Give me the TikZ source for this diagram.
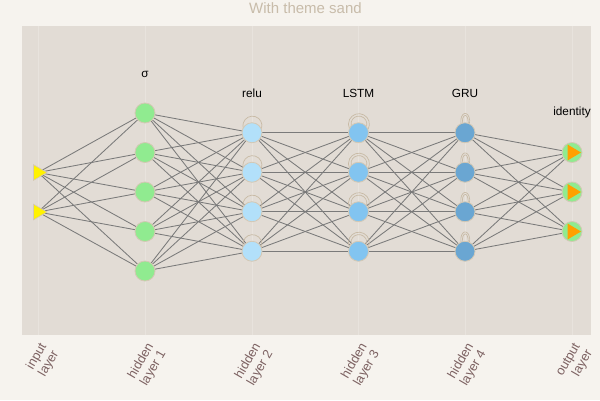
\documentclass[tikz,border=0pt]{standalone}
\usepackage{fontspec}
\setmainfont{Liberation Sans}
\usetikzlibrary{positioning,shapes.geometric}

\definecolor{sandpaper}{RGB}{246,243,238}
\definecolor{sandplot}{RGB}{226,220,213}
\definecolor{sandgrid}{RGB}{232,227,221}
\definecolor{sandtitle}{RGB}{200,188,170}
\definecolor{sandtick}{RGB}{125,98,98}
\definecolor{sandline}{RGB}{212,200,180}
\definecolor{sandloop}{RGB}{200,186,165}
\definecolor{edgegray}{RGB}{122,122,122}
\definecolor{sigmagreen}{RGB}{144,235,144}
\definecolor{relublue}{RGB}{178,224,250}
\definecolor{lstmblue}{RGB}{130,196,240}
\definecolor{grublue}{RGB}{106,166,210}
\definecolor{outorange}{RGB}{255,160,0}

\pgfdeclarelayer{plotbg}
\pgfdeclarelayer{edges}
\pgfsetlayers{plotbg,edges,main}

\tikzset{
  neuron/.style={circle, draw=sandline, line width=0.8pt, minimum size=20pt, inner sep=0pt},
  inneuron/.style={regular polygon, regular polygon sides=3, shape border rotate=-90, draw=sandline, line width=0.6pt, fill=yellow, minimum size=18pt, inner sep=0pt},
  outneuron/.style={neuron, fill=sigmagreen, path picture={\fill[outorange] ([xshift=9pt]path picture bounding box.center) -- ++(-13.5pt,8pt) -- ++(0,-16pt) -- cycle;}},
  actname/.style={font=\fontsize{11.8}{14}\selectfont, inner sep=0pt, text depth=0pt},
  layername/.style={font=\fontsize{12.8}{14}\selectfont, text=sandtick, align=right, rotate=60, anchor=east, inner sep=0pt},
  conn/.style={draw=edgegray, line width=0.85pt},
  selfloop/.style={draw=sandloop, line width=0.7pt}
}

\begin{document}
\begin{tikzpicture}[x=1pt, y=1pt, node distance=39.5pt]
\useasboundingbox (0,0) rectangle (600,-400);
\begin{pgfonlayer}{plotbg}
\fill[sandpaper] (0,0) rectangle (600,-400);
\fill[sandplot] (22,-26) rectangle (591,-335);
\foreach \x in {38,145,252,358.5,465,572}
  \draw[sandgrid, line width=0.6pt] (\x,-26) -- (\x,-335);
\end{pgfonlayer}
\node[font=\fontsize{15}{17}\selectfont, text=sandtitle] (title) at (305.5,-8) {With theme sand};
% input layer
\node[inneuron] (i1) at (38,-172.5) {};
\node[inneuron, below of=i1] (i2) {};
% hidden layer 1
\node[neuron, fill=sigmagreen] (s1) at (145,-113) {};
\node[neuron, fill=sigmagreen, below of=s1] (s2) {};
\node[neuron, fill=sigmagreen, below of=s2] (s3) {};
\node[neuron, fill=sigmagreen, below of=s3] (s4) {};
\node[neuron, fill=sigmagreen, below of=s4] (s5) {};
% hidden layer 2
\node[neuron, fill=relublue] (r1) at (252,-132.75) {};
\node[neuron, fill=relublue, below of=r1] (r2) {};
\node[neuron, fill=relublue, below of=r2] (r3) {};
\node[neuron, fill=relublue, below of=r3] (r4) {};
% hidden layer 3
\node[neuron, fill=lstmblue] (l1) at (358.5,-132.75) {};
\node[neuron, fill=lstmblue, below of=l1] (l2) {};
\node[neuron, fill=lstmblue, below of=l2] (l3) {};
\node[neuron, fill=lstmblue, below of=l3] (l4) {};
% hidden layer 4
\node[neuron, fill=grublue] (g1) at (465,-132.75) {};
\node[neuron, fill=grublue, below of=g1] (g2) {};
\node[neuron, fill=grublue, below of=g2] (g3) {};
\node[neuron, fill=grublue, below of=g3] (g4) {};
% output layer
\node[outneuron] (o1) at (572,-152.5) {};
\node[outneuron, below of=o1] (o2) {};
\node[outneuron, below of=o2] (o3) {};
% activations
\node[actname, above=25pt of s1] (sig) {σ};
\node[actname, above=25pt of r1] (relu) {relu};
\node[actname, above=25pt of l1] (lstm) {LSTM};
\node[actname, above=25pt of g1] (gru) {GRU};
\node[actname, above=26pt of o1] (ident) {identity};
% layer names
\node[layername] (tin) at (50,-348) {input\\layer};
\node[layername] (th1) at (157,-348) {hidden\\layer 1};
\node[layername] (th2) at (264,-348) {hidden\\layer 2};
\node[layername] (th3) at (370.5,-348) {hidden\\layer 3};
\node[layername] (th4) at (477,-348) {hidden\\layer 4};
\node[layername] (tout) at (584,-348) {output\\layer};
\begin{pgfonlayer}{edges}
\foreach \a in {1,2} \foreach \b in {1,...,5} \draw[conn] (i\a.center) -- (s\b.center);
\foreach \a in {1,...,5} \foreach \b in {1,...,4} \draw[conn] (s\a.center) -- (r\b.center);
\foreach \a in {1,...,4} \foreach \b in {1,...,4} \draw[conn] (r\a.center) -- (l\b.center);
\foreach \a in {1,...,4} \foreach \b in {1,...,4} \draw[conn] (l\a.center) -- (g\b.center);
\foreach \a in {1,...,4} \foreach \b in {1,2,3} \draw[conn] (g\a.center) -- (o\b.center);
% recurrent loops
\foreach \n in {r1,r2,r3,r4}
  \draw[selfloop] (\n.24) arc[start angle=-17.5, end angle=197.5, radius=9.5pt];
\foreach \n in {l1,l2,l3,l4} {
  \draw[selfloop] (\n.21.4) arc[start angle=-27.5, end angle=207.5, radius=10.5pt];
  \draw[selfloop] (\n.39.6) arc[start angle=-15.4, end angle=195.4, radius=8pt];
}
\foreach \n in {g1,g2,g3,g4} {
  \draw[selfloop] (\n.64) arc[start angle=-14.5, end angle=194.5, x radius=4.5pt, y radius=8pt];
  \draw[selfloop] (\n.72.5) arc[start angle=-4, end angle=184, x radius=3pt, y radius=7pt];
}
\end{pgfonlayer}
\end{tikzpicture}
\end{document}
